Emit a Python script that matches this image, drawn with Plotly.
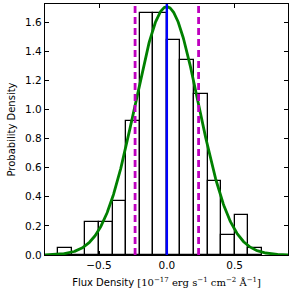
import numpy as np
import plotly.graph_objects as go

# Histogram (density), bin width 0.1
bin_left = [-0.8, -0.7, -0.6, -0.5, -0.4, -0.3, -0.2, -0.1, 0.0, 0.1, 0.2, 0.3, 0.4, 0.5, 0.6]
density = [0.046, 0.0, 0.230, 0.230, 0.369, 0.922, 1.659, 1.659, 1.475, 1.336, 1.106, 0.507, 0.138, 0.276, 0.046]
bin_width = 0.1

# Gaussian fit parameters
mu = 0.0
sigma = 0.234

xt_vals = [-0.5, 0.0, 0.5]
xt_text = ["\u22120.5", "0.0", "0.5"]
yt_vals = [0.0, 0.2, 0.4, 0.6, 0.8, 1.0, 1.2, 1.4, 1.6]
yt_text = ["0.0", "0.2", "0.4", "0.6", "0.8", "1.0", "1.2", "1.4", "1.6"]

centers = [b + bin_width / 2 for b in bin_left]
xg = np.linspace(-0.9, 0.9, 500)
yg = np.exp(-0.5 * ((xg - mu) / sigma) ** 2) / (sigma * np.sqrt(2 * np.pi))

fig = go.Figure()
fig.add_trace(go.Bar(x=centers, y=density, width=[bin_width] * len(centers),
                     marker=dict(color="white", line=dict(color="black", width=1.3)),
                     showlegend=False, hoverinfo="skip"))
fig.add_trace(go.Scatter(x=xg, y=yg, mode="lines", line=dict(color="#008000", width=2.8),
                         showlegend=False, hoverinfo="skip"))

fig.add_shape(type="line", x0=mu, x1=mu, y0=0, y1=1, yref="paper",
              line=dict(color="#0000ff", width=2.4))
for v in [mu - sigma, mu + sigma]:
    fig.add_shape(type="line", x0=v, x1=v, y0=0, y1=1, yref="paper",
                  line=dict(color="#bf00bf", width=2.8, dash="7px,4px"))

fig.update_layout(
    width=293, height=296,
    margin=dict(l=45, r=5, t=4, b=41, autoexpand=False),
    paper_bgcolor="white", plot_bgcolor="white",
    bargap=0,
    font=dict(family="DejaVu Sans", size=10, color="black"),
    xaxis=dict(range=[-0.898, 0.893], tickvals=xt_vals, ticktext=xt_text,
               ticks="inside", ticklen=4, tickcolor="black", tickwidth=1,
               showline=True, linecolor="black", linewidth=1.3, mirror="ticks",
               showgrid=False, zeroline=False, automargin=False,
               tickfont=dict(size=10.5),
               title=dict(text="Flux Density <span style='font-family:DejaVu Serif'>[10<sup>\u221217</sup> erg s<sup>\u22121</sup> cm<sup>\u22122</sup> \u00c5<sup>\u22121</sup>]</span>",
                          font=dict(size=10), standoff=9)),
    yaxis=dict(range=[0, 1.724], tickvals=yt_vals, ticktext=yt_text,
               ticks="inside", ticklen=4, tickcolor="black", tickwidth=1,
               showline=True, linecolor="black", linewidth=1.3, mirror="ticks",
               showgrid=False, zeroline=False, automargin=False,
               tickfont=dict(size=10.5),
               title=dict(text="Probability Density", font=dict(size=10), standoff=7)),
)

fig.write_html("out.html", config={"displayModeBar": False},
               post_script="document.body.style.margin='0';")
